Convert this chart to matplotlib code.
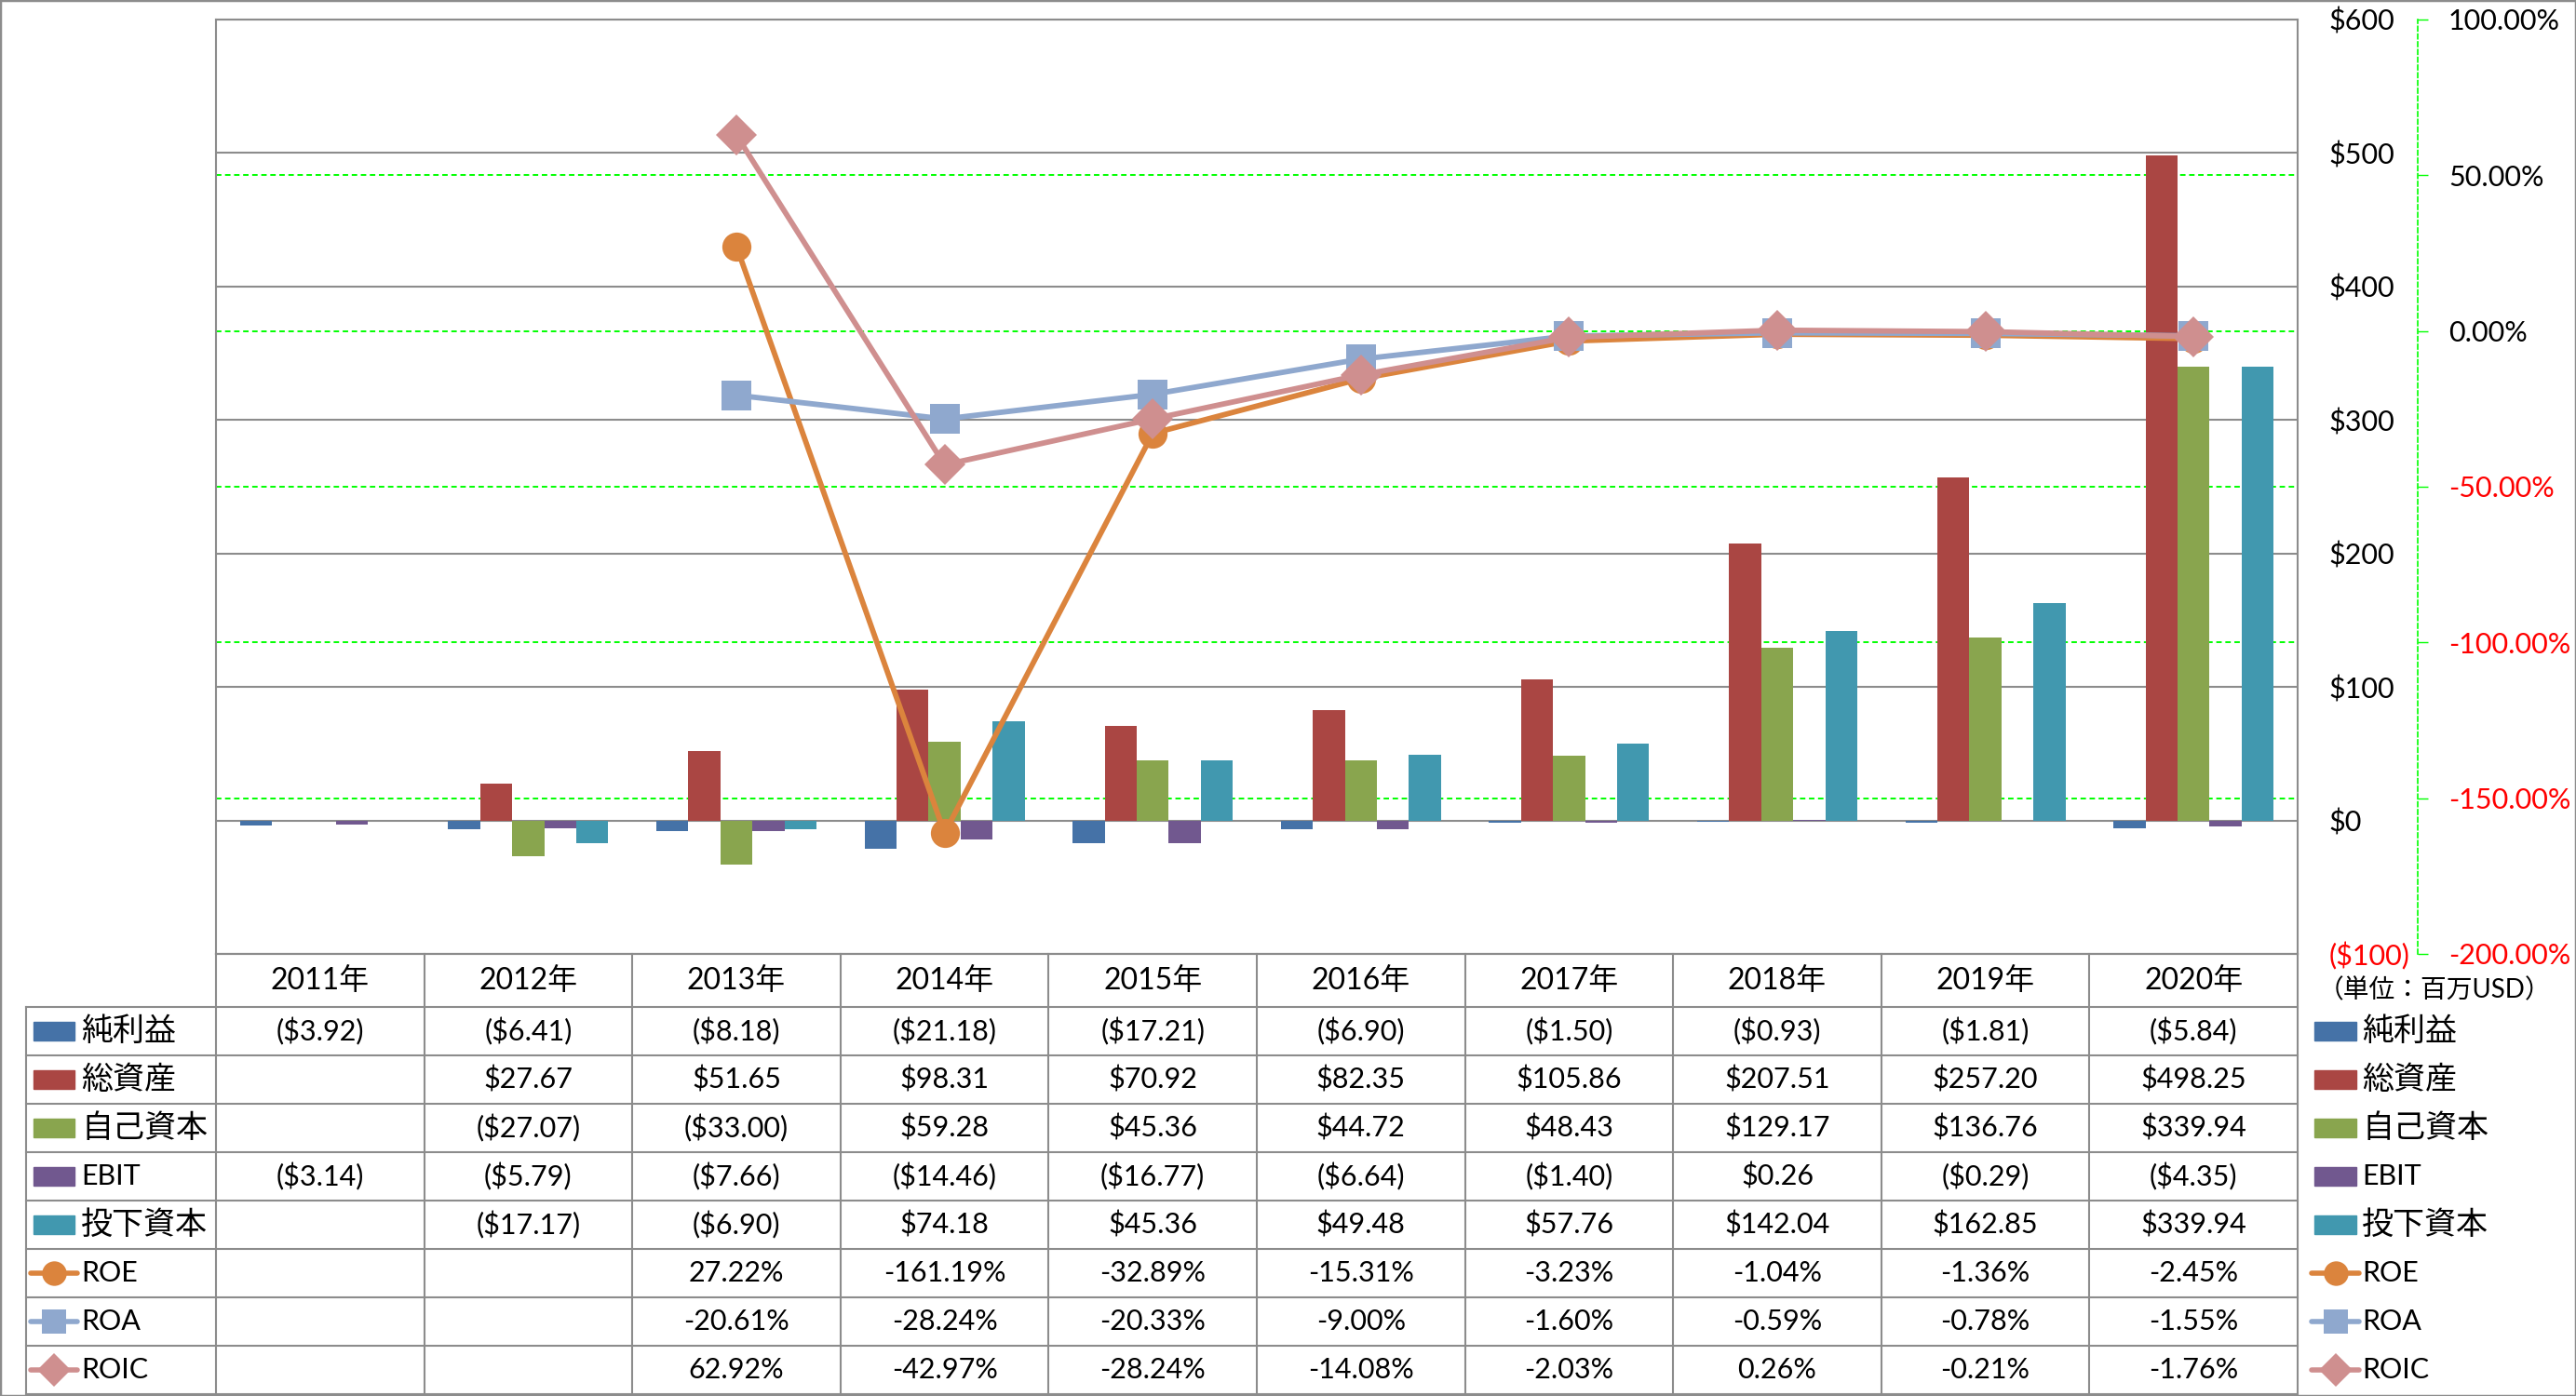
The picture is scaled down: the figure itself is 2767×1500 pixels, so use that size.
import numpy as np
import matplotlib
matplotlib.use('Agg')
import matplotlib.pyplot as plt
from matplotlib.patches import Rectangle
from matplotlib.ticker import FuncFormatter
from matplotlib.transforms import blended_transform_factory

plt.rcParams['font.family'] = ['Lato', 'Noto Sans CJK JP', 'DejaVu Sans']

nan = np.nan
years = ['2011年', '2012年', '2013年', '2014年', '2015年', '2016年', '2017年', '2018年', '2019年', '2020年']
net_income = [-3.92, -6.41, -8.18, -21.18, -17.21, -6.90, -1.50, -0.93, -1.81, -5.84]
total_assets = [nan, 27.67, 51.65, 98.31, 70.92, 82.35, 105.86, 207.51, 257.20, 498.25]
equity = [nan, -27.07, -33.00, 59.28, 45.36, 44.72, 48.43, 129.17, 136.76, 339.94]
ebit = [-3.14, -5.79, -7.66, -14.46, -16.77, -6.64, -1.40, 0.26, -0.29, -4.35]
invested = [nan, -17.17, -6.90, 74.18, 45.36, 49.48, 57.76, 142.04, 162.85, 339.94]
roe = [nan, nan, 27.22, -161.19, -32.89, -15.31, -3.23, -1.04, -1.36, -2.45]
roa = [nan, nan, -20.61, -28.24, -20.33, -9.00, -1.60, -0.59, -0.78, -1.55]
roic = [nan, nan, 62.92, -42.97, -28.24, -14.08, -2.03, 0.26, -0.21, -1.76]

bar_names = ['純利益', '総資産', '自己資本', 'EBIT', '投下資本']
bar_data = [net_income, total_assets, equity, ebit, invested]
bar_colors = ['#4572A7', '#AA4643', '#89A54E', '#71588F', '#4198AF']
line_names = ['ROE', 'ROA', 'ROIC']
line_data = [roe, roa, roic]
line_colors = ['#DB843D', '#8FA8CE', '#CF8F8F']
line_markers = ['o', 's', 'D']

W, H = 2767, 1500
fig = plt.figure(figsize=(W / 100, H / 100), dpi=100)
fig.patches.append(Rectangle((0, 0), 1, 1, transform=fig.transFigure, fill=False,
                             edgecolor='#8c8c8c', lw=2.5))

# plot area (pixels: x 232..2468, y 21..1025)
ax = fig.add_axes([232 / W, 1 - 1025 / H, (2468 - 232) / W, (1025 - 21) / H])
ax2 = ax.twinx()
x = np.arange(len(years))
ax.set_xlim(-0.5, 9.5)
ax.set_ylim(-100, 600)
ax2.set_ylim(-200, 100)

bw = 0.154
for i, (vals, col) in enumerate(zip(bar_data, bar_colors)):
    ax.bar(x + (i - 2) * bw, vals, width=bw, color=col, zorder=2)

ax.set_axisbelow(True)
ax.set_yticks(np.arange(-100, 601, 100))
ax.grid(axis='y', color='#8c8c8c', lw=1.5)
ax.set_xticks([])
ax.yaxis.tick_right()
ax.tick_params(axis='y', length=0, pad=24, labelsize=22)
ax.yaxis.set_major_formatter(FuncFormatter(lambda v, p: f'${v:.0f}' if v >= 0 else f'(${-v:.0f})'))
for sp in ax.spines.values():
    sp.set_color('#8c8c8c')
    sp.set_linewidth(1.5)

# green percent gridlines kept under the bars
pct_ticks = np.arange(-200, 101, 50)
ax.hlines([t for t in pct_ticks if -200 < t < 100], 0, 1, colors='#00FF00', lw=1.4,
          linestyles=(0, (3, 2)), zorder=1,
          transform=blended_transform_factory(ax.transAxes, ax2.transData))

for vals, col, mk in zip(line_data, line_colors, line_markers):
    ax2.plot(x, vals, color=col, lw=4.2, marker=mk, ms=22.5 if mk != 'D' else 22,
             markeredgewidth=0, zorder=3)

ax2.set_yticks(pct_ticks)
ax2.yaxis.set_major_formatter(FuncFormatter(lambda v, p: f'{v:.2f}%'))
ax2.tick_params(axis='y', length=7.7, width=1, color='#00FF00', pad=16, labelsize=22)
for s in ['left', 'top', 'bottom']:
    ax2.spines[s].set_visible(False)
ax2.spines['right'].set_position(('axes', 1.0577))
ax2.spines['right'].set_color('#00FF00')
ax2.spines['right'].set_linestyle((0, (3, 2)))
ax2.spines['right'].set_linewidth(1.2)

fig.canvas.draw()
for lab in ax.get_yticklabels():
    if lab.get_position()[1] < 0:
        lab.set_color('red')
for lab in ax2.get_yticklabels():
    if lab.get_position()[1] < 0:
        lab.set_color('red')

# data table below the plot
tax = fig.add_axes([0, 0, 1, 475 / H])
tax.set_xlim(-0.5 - 232 / 223.6, -0.5 + (W - 232) / 223.6)
tax.set_ylim(H, 1025)
tax.axis('off')


def px(p):
    return -0.5 + (p - 232) / 223.6


grid_kw = dict(color='#8c8c8c', lw=1.5, clip_on=False)
row_h = 52
rows_top = 1082
n_rows = 8
tax.plot([-0.5, 9.5], [1025, 1025], **grid_kw)
for k in range(n_rows + 1):
    y = rows_top + k * row_h
    tax.plot([px(28), 9.5], [y, y], **grid_kw)
for c in range(11):
    tax.plot([c - 0.5, c - 0.5], [1025, rows_top + n_rows * row_h], **grid_kw)
tax.plot([px(28), px(28)], [rows_top, rows_top + n_rows * row_h], **grid_kw)

for i, yr in enumerate(years):
    tax.text(i, (1025 + rows_top) / 2, yr, ha='center', va='center', fontsize=23)


def fmt_money(v):
    if np.isnan(v):
        return ''
    return f'${v:.2f}' if v >= 0 else f'(${-v:.2f})'


def fmt_pct(v):
    return '' if np.isnan(v) else f'{v:.2f}%'


names = bar_names + line_names
for r in range(n_rows):
    yc = rows_top + (r + 0.5) * row_h
    if r < 5:
        vals = [fmt_money(v) for v in bar_data[r]]
    else:
        vals = [fmt_pct(v) for v in line_data[r - 5]]
    for i, s in enumerate(vals):
        tax.text(i, yc, s, ha='center', va='center', fontsize=22)
    # legend keys: left in the table, right outside it
    for sw0, sw1, tx in [(36, 80, 87), (2486, 2531, 2537)]:
        if r < 5:
            tax.add_patch(Rectangle((px(sw0), yc - 10), px(sw1) - px(sw0), 20,
                                    color=bar_colors[r], clip_on=False))
        else:
            j = r - 5
            tax.plot([px(sw0 - 3), px(sw1 + 3)], [yc, yc], color=line_colors[j], lw=4,
                     clip_on=False, solid_capstyle='round')
            tax.plot([px((sw0 + sw1) / 2)], [yc], marker=line_markers[j], color=line_colors[j],
                     ms=19 if line_markers[j] != 'D' else 18, markeredgewidth=0, clip_on=False)
        fs = 22 if names[r].isascii() else 24.5
        tax.text(px(tx), yc, names[r], ha='left', va='center', fontsize=fs)

tax.text(px(2490), 1064, '（単位：百万USD）', ha='left', va='center', fontsize=20)

fig.savefig('out.png', dpi=100)
